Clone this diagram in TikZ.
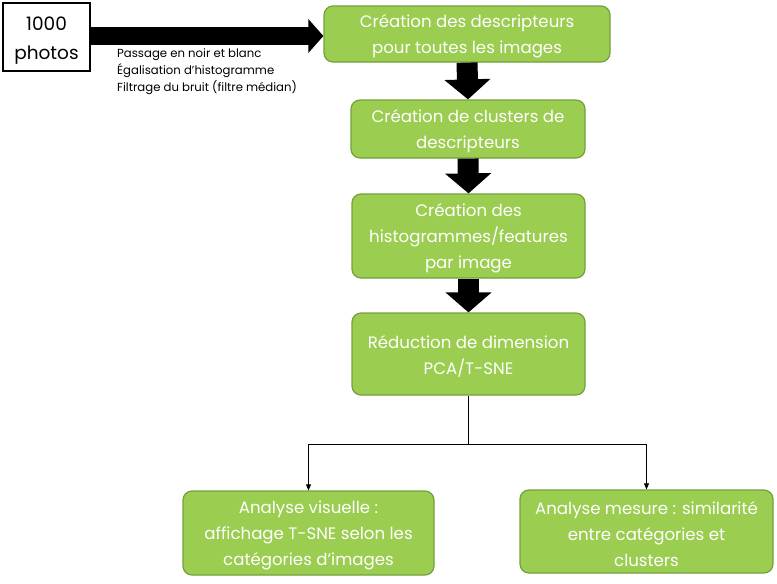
\documentclass[tikz,border=0pt]{standalone}
\usepackage{fontspec}
\setmainfont{Poppins}
\usetikzlibrary{arrows.meta,calc}
\definecolor{boxgreen}{RGB}{155,205,80}
\definecolor{boxedge}{RGB}{115,160,60}
\tikzset{
  gbox/.style={draw=boxedge, line width=1.2pt, fill=boxgreen, rounded corners=9pt, inner sep=0pt},
  gtext/.style={text=white, align=center, font=\fontsize{16.6}{25.8}\selectfont, inner sep=0pt, yshift=-2.5pt},
  bigdown/.style={line width=21pt, draw=black, -{Triangle[length=20pt,width=45pt]}},
  bigright/.style={line width=17.5pt, draw=black, -{Triangle[length=15pt,width=33pt]}},
  thin/.style={line width=0.8pt, draw=black},
  thinarrow/.style={thin, -{Triangle[length=6pt,width=5pt]}},
}
\begin{document}
\begin{tikzpicture}[x=1pt,y=-1pt]
\useasboundingbox (0,0) rectangle (777,584);
\node[draw=black, line width=1.5pt, fill=white, minimum width=87pt, minimum height=68pt, inner sep=0pt] (photos) at (46.5,37) {};
\node[align=center, inner sep=0pt, font=\fontsize{18.5}{29}\selectfont] (photost) at ($(photos.center)+(0,3.5)$) {1000\\photos};
\node[gbox, minimum width=286pt, minimum height=56pt] (b1) at (467,34) {};
\node[gbox, minimum width=234pt, minimum height=58pt] (b2) at (468,129) {};
\node[gbox, minimum width=233pt, minimum height=84pt] (b3) at (468.5,236) {};
\node[gbox, minimum width=233pt, minimum height=82pt] (b4) at (468.5,354) {};
\node[gbox, minimum width=251pt, minimum height=84pt] (b5) at (308.5,533) {};
\node[gbox, minimum width=253pt, minimum height=83pt] (b6) at (646.5,531.5) {};
\node[gtext] (t1) at (b1.center) {Création des descripteurs\\pour toutes les images};
\node[gtext] (t2) at (b2.center) {Création de clusters de\\descripteurs};
\node[gtext] (t3) at (b3.center) {Création des\\histogrammes/features\\par image};
\node[gtext] (t4) at (b4.center) {Réduction de dimension\\PCA/T-SNE};
\node[gtext] (t5) at (b5.center) {Analyse visuelle :\\affichage T-SNE selon les\\catégories d’images};
\node[gtext] (t6) at (b6.center) {Analyse mesure : similarité\\entre catégories et\\clusters};
\node[anchor=north west, align=left, inner sep=0pt, font=\fontsize{11.7}{17}\selectfont] (prep) at (117,48.5)
  {Passage en noir et blanc\\Égalisation d’histogramme\\Filtrage du bruit (filtre médian)};
\draw[bigright] (photos.east |- 0,36) -- (b1.west |- 0,36);
\draw[bigdown] (b1.south) -- (b2.north);
\draw[bigdown] (b2.south) -- (b3.north);
\draw[bigdown] (b3.south) -- (b4.north);
\coordinate (j) at ($(b4.south)+(0,49)$);
\draw[thin] (b4.south) -- (j);
\draw[thinarrow] (j) -| (b5.north);
\draw[thinarrow] (j) -| (b6.north);
\end{tikzpicture}
\end{document}
